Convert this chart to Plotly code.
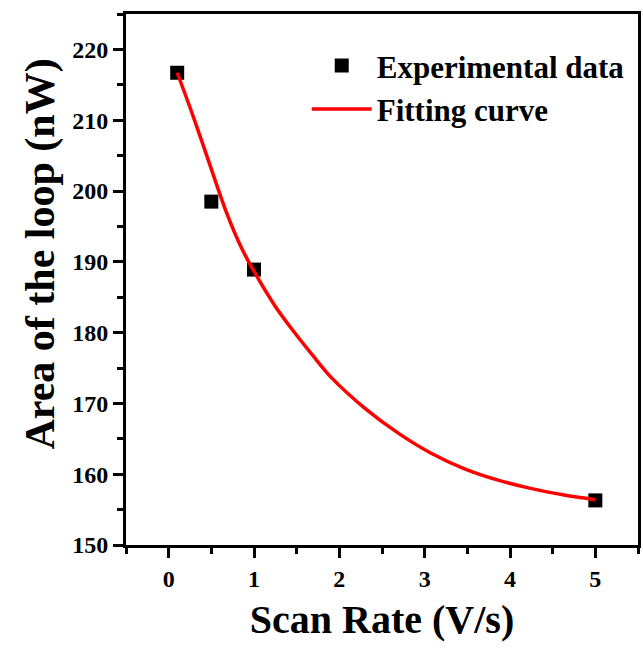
import plotly.graph_objects as go

# Experimental data
scan_rate = [0.1, 0.5, 1.0, 5.0]
loop_area = [216.7, 198.5, 188.9, 156.3]

# Fitting curve
fit_x = [0.1, 0.28, 0.48, 0.67, 0.86, 1.06, 1.25, 1.45, 1.70, 1.91, 2.30,
         2.69, 3.07, 3.46, 3.85, 4.24, 4.62, 5.0]
fit_y = [216.7, 210.8, 203.8, 197.2, 191.8, 187.4, 183.7, 180.4, 176.6,
         173.6, 169.3, 165.8, 163.0, 160.8, 159.2, 158.0, 157.1, 156.4]

x_ticks = [0, 1, 2, 3, 4, 5]
y_ticks = [150, 160, 170, 180, 190, 200, 210, 220]

FONT = "Liberation Serif, Times New Roman, serif"

fig = go.Figure()
fig.add_trace(go.Scatter(
    x=scan_rate, y=loop_area, mode="markers", name="<b>Experimental data</b>",
    marker=dict(symbol="square", size=14, color="black"),
))
fig.add_trace(go.Scatter(
    x=fit_x, y=fit_y, mode="lines", name="<b>Fitting curve</b>",
    line=dict(color="#ff0000", width=3.5, shape="spline", smoothing=0.8),
))

axis_common = dict(
    showline=True, linecolor="black", linewidth=3, mirror=True,
    ticks="outside", ticklen=10, tickwidth=3, tickcolor="black",
    showgrid=False, zeroline=False,
    tickfont=dict(family=FONT, size=24, color="black"),
)

fig.update_xaxes(
    range=[-0.5, 5.5], tickvals=x_ticks, ticktext=[f"<b>{v}</b>" for v in x_ticks],
    title=dict(text="<b>Scan Rate (V/s)</b>", font=dict(family=FONT, size=40, color="black"),
               standoff=15),
    minor=dict(dtick=0.5, tick0=0, ticks="outside", ticklen=6, tickwidth=3, tickcolor="black"),
    **axis_common,
)
fig.update_yaxes(
    range=[150, 225], tickvals=y_ticks, ticktext=[f"<b>{v}</b>" for v in y_ticks],
    minor=dict(dtick=5, tick0=150, ticks="outside", ticklen=6, tickwidth=3, tickcolor="black"),
    **axis_common,
)

fig.add_annotation(
    text="<b>Area of the loop (nW)</b>", textangle=-90,
    xref="paper", yref="paper", x=-0.167, y=0.548,
    xanchor="center", yanchor="middle", showarrow=False,
    font=dict(family=FONT, size=42, color="black"),
)

fig.update_layout(
    width=643, height=651,
    margin=dict(l=126, r=2, t=14, b=106),
    paper_bgcolor="white", plot_bgcolor="white",
    font=dict(family=FONT, color="black"),
    showlegend=True,
    legend=dict(
        x=0.353, y=0.953, xanchor="left", yanchor="top",
        bgcolor="rgba(0,0,0,0)", borderwidth=0,
        font=dict(family=FONT, size=31, color="black", weight="bold"),
        itemwidth=60,
    ),
)

fig.write_html(
    "out.html",
    config={"displayModeBar": False},
    post_script="document.body.style.margin='0';document.body.style.overflow='hidden';",
)
